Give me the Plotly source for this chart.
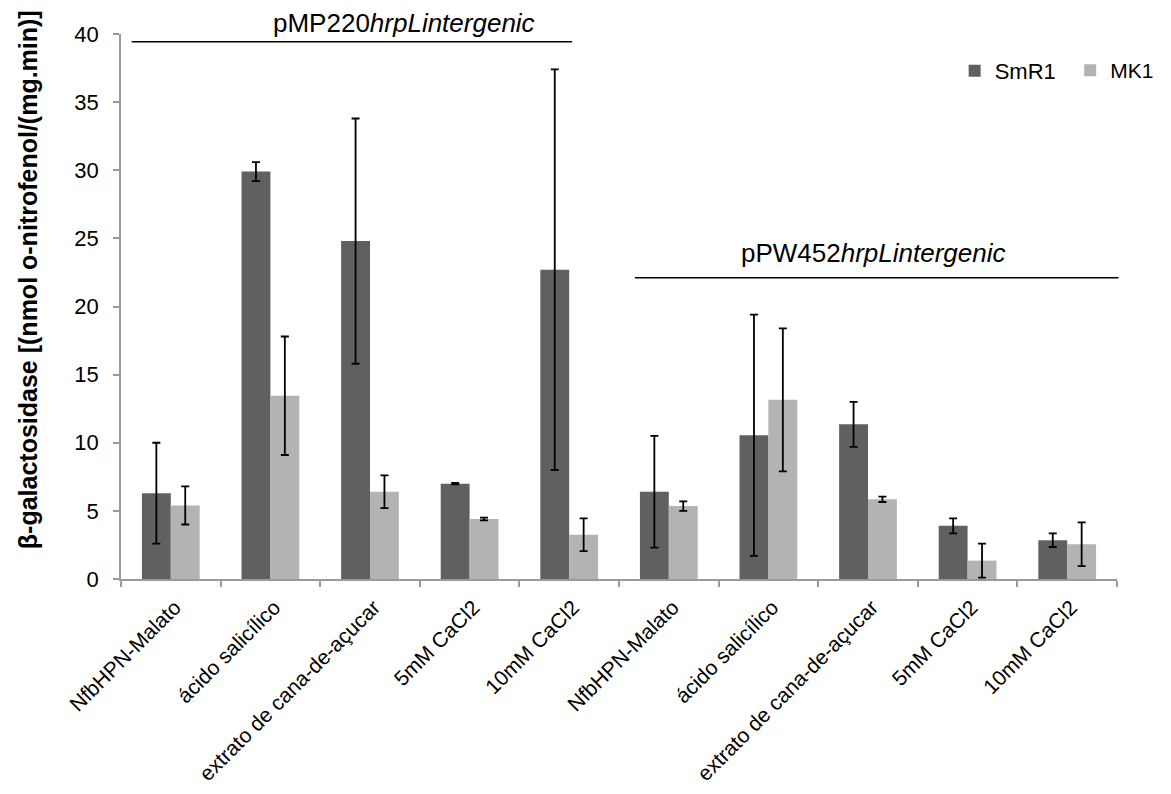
import plotly.graph_objects as go

treatments = ["NfbHPN-Malato", "ácido salicílico", "extrato de cana-de-açucar", "5mM CaCl2", "10mM CaCl2"]
# second construct: same labels, made unique with a zero-width space
categories = treatments + [t + "\u200b" for t in treatments]

smr1 = [6.3, 29.9, 24.8, 7.0, 22.7, 6.4, 10.55, 11.35, 3.9, 2.85]
smr1_err = [3.7, 0.7, 9.0, 0.05, 14.7, 4.1, 8.85, 1.65, 0.55, 0.5]
mk1 = [5.4, 13.45, 6.4, 4.4, 3.25, 5.35, 13.15, 5.85, 1.35, 2.55]
mk1_err = [1.4, 4.35, 1.2, 0.1, 1.2, 0.35, 5.25, 0.2, 1.25, 1.6]

series_names = ["SmR1", "MK1"]
colors = ["#606060", "#b3b3b3"]
legend_ids = ["legend", "legend2"]
FONT = "Arial, 'Liberation Sans', sans-serif"

fig = go.Figure()
for name, vals, errs, col, lg in zip(series_names, [smr1, mk1], [smr1_err, mk1_err], colors, legend_ids):
    fig.add_trace(go.Bar(
        x=categories, y=vals, name=name, legend=lg,
        marker=dict(color=col, line=dict(width=0)),
        error_y=dict(type="data", array=errs, visible=True, color="black", thickness=1.8, width=4),
    ))

leg_common = dict(orientation="h", yanchor="top", xanchor="left", y=0.9706,
                  itemwidth=30, bgcolor="rgba(0,0,0,0)")
fig.update_layout(
    width=1163, height=786,
    margin=dict(l=113, r=48, t=26, b=215),
    paper_bgcolor="white", plot_bgcolor="white",
    barmode="group", bargap=0.42, bargroupgap=0,
    font=dict(family=FONT, size=21, color="black"),
    showlegend=True,
    legend=dict(x=0.837, font=dict(size=22, color="black"), **leg_common),
    legend2=dict(x=0.953, font=dict(size=21, color="black"), **leg_common),
)
fig.update_yaxes(range=[0, 40], dtick=5, showgrid=False, zeroline=False, automargin=False,
                 showline=True, linecolor="#999999", linewidth=1.5,
                 ticks="outside", ticklen=6, tickcolor="#999999", tickwidth=1.5,
                 tickfont=dict(size=22), ticklabelstandoff=10)
fig.update_xaxes(type="category", showgrid=False, showline=True, automargin=False,
                 linecolor="#999999", linewidth=1.5,
                 ticks="outside", ticklen=6, tickcolor="#999999", tickwidth=1.5,
                 tickson="boundaries", tickangle=-45, tickfont=dict(size=21),
                 ticklabelstandoff=6, ticklabelshift=4)

# y-axis title
fig.add_annotation(text="<b>β-galactosidase [(nmol o-nitrofenol/(mg.min)]</b>", textangle=-90,
                   xref="paper", yref="paper", x=-0.094, y=0.549, xanchor="center", yanchor="middle",
                   showarrow=False, font=dict(size=25, color="black"))

# construct group labels and lines
fig.add_annotation(text="pMP220<i>hrpLintergenic</i>", xref="paper", yref="paper",
                   x=0.284, y=1.0196, xanchor="center", yanchor="middle",
                   showarrow=False, font=dict(size=26, color="black"))
fig.add_shape(type="line", xref="paper", yref="paper", x0=0.0107, x1=0.453, y0=0.9859, y1=0.9859,
              line=dict(color="black", width=1.5))
fig.add_annotation(text="pPW452<i>hrpLintergenic</i>", xref="paper", yref="paper",
                   x=0.7555, y=0.598, xanchor="center", yanchor="middle",
                   showarrow=False, font=dict(size=26, color="black"))
fig.add_shape(type="line", xref="paper", yref="paper", x0=0.516, x1=1.0015, y0=0.5528, y1=0.5528,
              line=dict(color="black", width=1.5))

fig.write_html("out.html")
